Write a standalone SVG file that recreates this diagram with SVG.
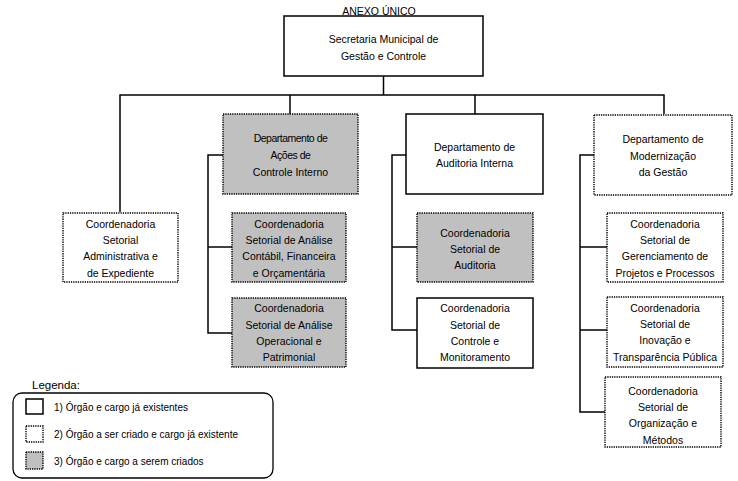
<svg xmlns="http://www.w3.org/2000/svg" width="738" height="481" viewBox="0 0 738 481">
<style>
  .t{font-family:"Liberation Sans",Arial,sans-serif;font-size:10.5px;fill:#000;text-anchor:middle}
  .solid{fill:#fff;stroke:#000;stroke-width:1.5}
  .dot{fill:#fff;stroke:#000;stroke-width:1.4;stroke-dasharray:1.3 1}
  .gray{fill:#c0c0c0;stroke:#000;stroke-width:1.4;stroke-dasharray:1.3 1}
  .c{fill:none;stroke:#000;stroke-width:1.5}
  .lg{font-family:"Liberation Sans",Arial,sans-serif;font-size:10px;fill:#000}
</style>
<rect width="738" height="481" fill="#fff"/>
<text x="379" y="15" class="t" font-size="10">ANEXO ÚNICO</text>

<g id="connectors">
  <path class="c" d="M383.5 76 V95"/>
  <path class="c" d="M120 212 V95 H664 V114"/>
  <path class="c" d="M290 95 V114"/>
  <path class="c" d="M475 95 V114"/>
  <path class="c" d="M223 155 H208 V333 H232"/>
  <path class="c" d="M208 247 H232"/>
  <path class="c" d="M406 155 H392 V330 H417"/>
  <path class="c" d="M392 247 H417"/>
  <path class="c" d="M594 155 H580 V412 H605"/>
  <path class="c" d="M580 247 H607"/>
  <path class="c" d="M580 330 H607"/>
</g>

<g id="root">
  <rect class="solid" x="284" y="16" width="199" height="60"/>
  <text class="t" x="383.5" y="43">Secretaria Municipal de</text>
  <text class="t" x="383.5" y="60">Gestão e Controle</text>
</g>

<g id="dept-acoes">
  <rect class="gray" x="223" y="114" width="135" height="80"/>
  <text class="t" x="290.5" y="142" letter-spacing="-0.5">Departamento de</text>
  <text class="t" x="290.5" y="159" letter-spacing="-0.5">Ações de</text>
  <text class="t" x="290.5" y="176">Controle Interno</text>
</g>

<g id="dept-auditoria">
  <rect class="solid" x="406" y="114" width="137" height="80"/>
  <text class="t" x="474.5" y="151">Departamento de</text>
  <text class="t" x="474.5" y="167">Auditoria Interna</text>
</g>

<g id="dept-modernizacao">
  <rect class="dot" x="594" y="115" width="138" height="80"/>
  <text class="t" x="663" y="143">Departamento de</text>
  <text class="t" x="663" y="160">Modernização</text>
  <text class="t" x="663" y="176">da Gestão</text>
</g>

<g id="coord-admin">
  <rect class="dot" x="63" y="213" width="115" height="69"/>
  <text class="t" x="120.5" y="228">Coordenadoria</text>
  <text class="t" x="120.5" y="244">Setorial</text>
  <text class="t" x="120.5" y="260">Administrativa e</text>
  <text class="t" x="120.5" y="277">de Expediente</text>
</g>

<g id="coord-contabil">
  <rect class="gray" x="232" y="213" width="114" height="69"/>
  <text class="t" x="289" y="228">Coordenadoria</text>
  <text class="t" x="289" y="244">Setorial de Análise</text>
  <text class="t" x="289" y="260">Contábil, Financeira</text>
  <text class="t" x="289" y="277">e Orçamentária</text>
</g>

<g id="coord-operacional">
  <rect class="gray" x="232" y="298" width="114" height="69"/>
  <text class="t" x="289" y="312">Coordenadoria</text>
  <text class="t" x="289" y="329">Setorial de Análise</text>
  <text class="t" x="289" y="345">Operacional e</text>
  <text class="t" x="289" y="361">Patrimonial</text>
</g>

<g id="coord-auditoria">
  <rect class="gray" x="417" y="213" width="116" height="69"/>
  <text class="t" x="475" y="237">Coordenadoria</text>
  <text class="t" x="475" y="253">Setorial de</text>
  <text class="t" x="475" y="269">Auditoria</text>
</g>

<g id="coord-controle">
  <rect class="solid" x="417" y="298" width="116" height="70"/>
  <text class="t" x="475" y="312">Coordenadoria</text>
  <text class="t" x="475" y="329">Setorial de</text>
  <text class="t" x="475" y="345">Controle e</text>
  <text class="t" x="475" y="361">Monitoramento</text>
</g>

<g id="coord-gerenciamento">
  <rect class="dot" x="607" y="213" width="116" height="69"/>
  <text class="t" x="665" y="228">Coordenadoria</text>
  <text class="t" x="665" y="244">Setorial de</text>
  <text class="t" x="665" y="260">Gerenciamento de</text>
  <text class="t" x="665" y="277">Projetos e Processos</text>
</g>

<g id="coord-inovacao">
  <rect class="dot" x="607" y="297" width="116" height="70"/>
  <text class="t" x="665" y="312">Coordenadoria</text>
  <text class="t" x="665" y="328">Setorial de</text>
  <text class="t" x="665" y="344">Inovação e</text>
  <text class="t" x="665" y="361">Transparência Pública</text>
</g>

<g id="coord-organizacao">
  <rect class="dot" x="605" y="377" width="116" height="70"/>
  <text class="t" x="663" y="395">Coordenadoria</text>
  <text class="t" x="663" y="411">Setorial de</text>
  <text class="t" x="663" y="427">Organização e</text>
  <text class="t" x="663" y="444">Métodos</text>
</g>

<g id="legend">
  <text x="32" y="389" font-family="Liberation Sans,Arial,sans-serif" font-size="11.5">Legenda:</text>
  <rect x="13" y="393" width="260" height="85" rx="9" fill="none" stroke="#000" stroke-width="1.3"/>
  <rect class="solid" x="26" y="399" width="17" height="15"/>
  <rect class="dot" x="26" y="426" width="17" height="16"/>
  <rect class="gray" x="26" y="452" width="17" height="17"/>
  <text class="lg" x="54" y="411">1) Órgão e cargo já existentes</text>
  <text class="lg" x="54" y="438">2) Órgão a ser criado e cargo já existente</text>
  <text class="lg" x="54" y="465">3) Órgão e cargo a serem criados</text>
</g>
</svg>
